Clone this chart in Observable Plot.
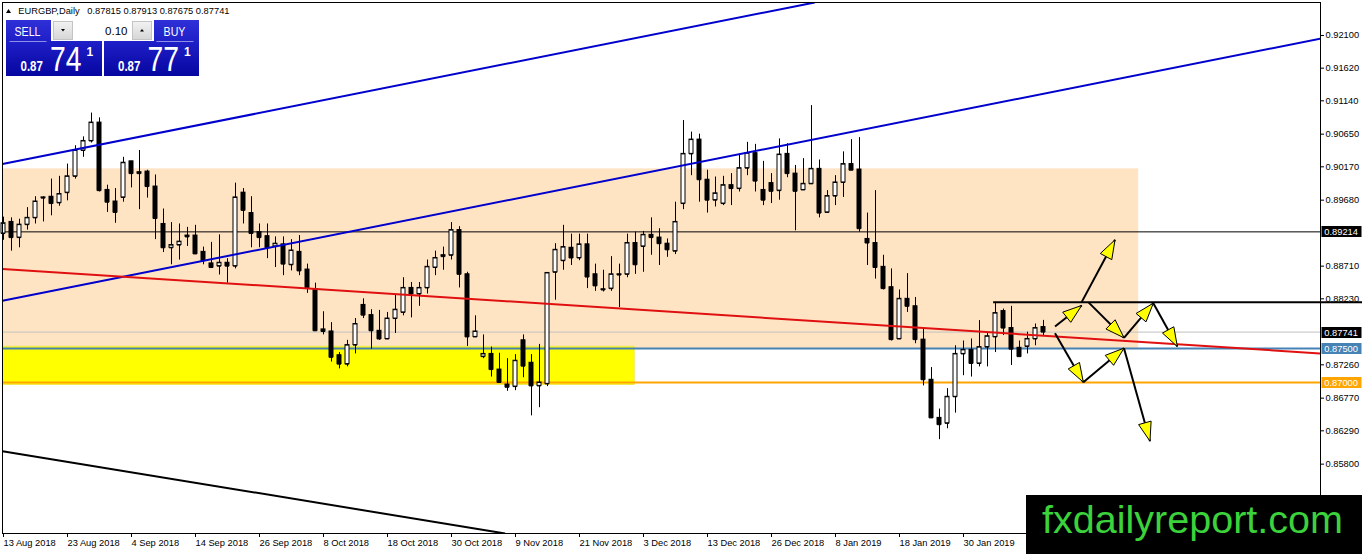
<!DOCTYPE html>
<html><head><meta charset="utf-8">
<script src="https://cdn.jsdelivr.net/npm/d3@7"></script>
<script src="https://cdn.jsdelivr.net/npm/@observablehq/plot@0.6"></script>
<style>
html,body{margin:0;padding:0;background:#fff;overflow:hidden}
#wrap{position:relative;width:1362px;height:554px}
#wrap svg{position:absolute;left:0;top:0}
</style></head><body><div id="wrap"></div>
<script>
// ---------- data ----------
const symbol = "EURGBP,Daily";
const lastOHLC = [0.87815, 0.87913, 0.87675, 0.87741];
const bidPrice = 0.87741, askPrice = 0.87771, lotSize = 0.10;

const opens = [0.8919,0.8936,0.8913,0.8932,0.8942,0.8972,0.8973,0.8964,0.8979,0.9003,
0.9041,0.9055,0.9082,0.8983,0.8966,0.8972,0.9025,0.9009,0.9010,0.8988,
0.8933,0.8898,0.8902,0.8916,0.8916,0.8892,0.8875,0.8871,0.8876,0.8871,
0.8979,0.8949,0.8921,0.8915,0.8900,0.8903,0.8873,0.8892,0.8866,0.8837,
0.8778,0.8775,0.8740,0.8727,0.8755,0.8814,0.8799,0.8776,0.8764,0.8794,
0.8803,0.8839,0.8830,0.8839,0.8869,0.8887,0.8887,0.8924,0.8859,0.8767,
0.8738,0.8742,0.8719,0.8697,0.8694,0.8762,0.8729,0.8695,0.8698,0.8862,
0.8879,0.8898,0.8883,0.8903,0.8859,0.8837,0.8838,0.8859,0.8859,0.8905,
0.8900,0.8917,0.8913,0.8904,0.8893,0.8963,0.9036,0.9057,0.8998,0.8968,
0.8963,0.8990,0.8985,0.9015,0.9037,0.8983,0.8993,0.8982,0.9036,0.9007,
0.8983,0.8992,0.9014,0.8950,0.8974,0.8994,0.9021,0.9013,0.8911,0.8905,
0.8870,0.8840,0.8764,0.8823,0.8812,0.8763,0.8704,0.8648,0.8640,0.8679,
0.8742,0.8748,0.8728,0.8752,0.8767,0.8805,0.8780,0.8751,0.8753,0.8764,
0.87815];
const highs = [0.8943,0.8942,0.8940,0.8957,0.8973,0.8973,0.8999,0.9003,0.9021,0.9048,
0.9061,0.9096,0.9089,0.8990,0.8985,0.9031,0.9025,0.9041,0.9012,0.9005,
0.8955,0.8935,0.8933,0.8928,0.8931,0.8899,0.8906,0.8917,0.8882,0.8993,
0.8985,0.8973,0.8933,0.8933,0.8914,0.8914,0.8910,0.8916,0.8874,0.8846,
0.8804,0.8788,0.8744,0.8762,0.8794,0.8823,0.8807,0.8806,0.8803,0.8828,
0.8854,0.8847,0.8847,0.8880,0.8893,0.8899,0.8935,0.8929,0.8862,0.8798,
0.8770,0.8752,0.8743,0.8735,0.8741,0.8770,0.8741,0.8756,0.8861,0.8904,
0.8931,0.8918,0.8918,0.8918,0.8874,0.8865,0.8885,0.8874,0.8918,0.8921,
0.8922,0.8942,0.8926,0.8911,0.8965,0.9085,0.9068,0.9065,0.9012,0.9002,
0.9003,0.9007,0.9034,0.9053,0.9050,0.9025,0.9007,0.9058,0.9051,0.9019,
0.9029,0.9107,0.9027,0.8982,0.9004,0.9039,0.9057,0.9060,0.8949,0.8982,
0.8887,0.8867,0.8836,0.8860,0.8825,0.8780,0.8722,0.8661,0.8691,0.8754,
0.8761,0.8764,0.8791,0.8772,0.8816,0.8808,0.8812,0.8761,0.8774,0.8786,
0.87913];
const lows = [0.8909,0.8893,0.8898,0.8924,0.8933,0.8936,0.8945,0.8959,0.8967,0.8999,
0.9031,0.9052,0.8980,0.8950,0.8934,0.8965,0.8986,0.8954,0.8971,0.8910,
0.8891,0.8873,0.8880,0.8900,0.8888,0.8873,0.8868,0.8858,0.8846,0.8867,
0.8933,0.8898,0.8898,0.8882,0.8869,0.8857,0.8864,0.8857,0.8831,0.8775,
0.8770,0.8730,0.8720,0.8723,0.8742,0.8794,0.8749,0.8762,0.8763,0.8772,
0.8798,0.8795,0.8812,0.8830,0.8857,0.8865,0.8880,0.8839,0.8753,0.8766,
0.8735,0.8708,0.8699,0.8687,0.8688,0.8707,0.8651,0.8663,0.8694,0.8821,
0.8865,0.8872,0.8879,0.8838,0.8834,0.8833,0.8834,0.8810,0.8854,0.8859,
0.8862,0.8887,0.8872,0.8884,0.8888,0.8954,0.9004,0.8965,0.8949,0.8958,
0.8960,0.8960,0.8980,0.9004,0.8980,0.8960,0.8963,0.8968,0.9001,0.8923,
0.8983,0.8992,0.8942,0.8949,0.8960,0.8972,0.9012,0.8921,0.8872,0.8852,
0.8836,0.8761,0.8763,0.8803,0.8757,0.8695,0.8647,0.8616,0.8632,0.8655,
0.8710,0.8708,0.8723,0.8723,0.8744,0.8769,0.8725,0.8738,0.8742,0.8754,
0.87675];
const closes = [0.8934,0.8913,0.8932,0.8942,0.8966,0.8971,0.8963,0.8977,0.9003,0.9041,
0.9055,0.9082,0.8982,0.8965,0.8950,0.9023,0.9007,0.9007,0.8988,0.8941,
0.8898,0.8902,0.8907,0.8914,0.8889,0.8879,0.8869,0.8876,0.8871,0.8972,
0.8953,0.8919,0.8913,0.8898,0.8904,0.8874,0.8894,0.8864,0.8839,0.8776,
0.8775,0.8737,0.8727,0.8755,0.8786,0.8799,0.8776,0.8764,0.8794,0.8807,
0.8839,0.8830,0.8839,0.8870,0.8883,0.8885,0.8924,0.8859,0.8767,0.8775,
0.8742,0.8719,0.8700,0.8693,0.8732,0.8724,0.8695,0.8700,0.8861,0.8895,
0.8899,0.8883,0.8903,0.8855,0.8842,0.8836,0.8859,0.8858,0.8905,0.8873,
0.8917,0.8913,0.8904,0.8895,0.8936,0.9036,0.9057,0.8998,0.8968,0.8978,
0.8990,0.8985,0.9015,0.9037,0.8996,0.8968,0.8981,0.9035,0.9007,0.8981,
0.8992,0.9014,0.8949,0.8974,0.8994,0.9021,0.9012,0.8926,0.8905,0.8869,
0.8838,0.8763,0.8823,0.8812,0.8763,0.8704,0.8648,0.8638,0.8679,0.8742,
0.8748,0.8728,0.8752,0.8768,0.8802,0.8780,0.8749,0.8738,0.8764,0.8780,
0.87741];

const xTickBars = [0,8,16,24,32,40,48,56,64,72,80,88,96,104,112,120];
const xTickLabels = ["13 Aug 2018","23 Aug 2018","4 Sep 2018","14 Sep 2018","26 Sep 2018","8 Oct 2018",
  "18 Oct 2018","30 Oct 2018","9 Nov 2018","21 Nov 2018","3 Dec 2018","13 Dec 2018","26 Dec 2018",
  "8 Jan 2019","18 Jan 2019","30 Jan 2019"];
const yTicks = [0.92100,0.91620,0.91140,0.90650,0.90170,0.89680,0.88710,0.88230,0.87260,0.86770,0.86290,0.85800];

// horizontal levels: resistance, bid, pivot, support
const levelPrices = [0.89214, 0.87741, 0.87500, 0.87000];

// shaded zones (bar index from/to, price low/high)
const zones = [
  {name: "range",   from: -1, to: 141.9, low: 0.87500, high: 0.90140},
  {name: "support", from: -1, to: 78.9,  low: 0.86965, high: 0.87525}
];

// trend lines (bar index, price)
const trendlines = [
  {name: "channelUpper", x1: -0.125, p1: 0.90211, x2: 101.4,   p2: 0.92585},
  {name: "channelLower", x1: -0.125, p1: 0.88202, x2: 164.625, p2: 0.92054},
  {name: "redTrend",     x1: -0.125, p1: 0.88669, x2: 164.625, p2: 0.87427},
  {name: "blackTrend",   x1: -0.125, p1: 0.85991, x2: 62.7,    p2: 0.84781},
  {name: "resistSeg",    x1: 123.7,  p1: 0.88180, x2: 169.9,   p2: 0.88180}
];

// scenario arrows (bar index, price) -> tip
const arrows = [
  {fromBar: 131.44, fromPrice: 0.87823, toBar: 134.77, toPrice: 0.88132},
  {fromBar: 134.77, fromPrice: 0.88181, toBar: 138.94, toPrice: 0.89097},
  {fromBar: 135.60, fromPrice: 0.88181, toBar: 140.06, toPrice: 0.87657},
  {fromBar: 140.06, fromPrice: 0.87657, toBar: 143.73, toPrice: 0.88166},
  {fromBar: 143.73, fromPrice: 0.88166, toBar: 146.73, toPrice: 0.87529},
  {fromBar: 131.44, fromPrice: 0.87725, toBar: 134.98, toPrice: 0.87005},
  {fromBar: 134.98, fromPrice: 0.87005, toBar: 140.06, toPrice: 0.87505},
  {fromBar: 140.06, fromPrice: 0.87505, toBar: 143.31, toPrice: 0.86138}
];

const watermark = "fxdailyreport.com";

// ---------- chart ----------
const candles = opens.map((o, i) => ({i, o, h: highs[i], l: lows[i], c: closes[i]}));
const bull = candles.filter(d => d.c >= d.o);
const bear = candles.filter(d => d.c < d.o);
const HW = 0.25;
const byName = n => trendlines.filter(t => t.name === n);

function arrowHeads(index, scales) {
  const g = d3.create("svg:g");
  for (const a of arrows) {
    const x1 = scales.x(a.fromBar) + 0.5, y1 = scales.y(a.fromPrice) + 0.5;
    const x2 = scales.x(a.toBar) + 0.5, y2 = scales.y(a.toPrice) + 0.5;
    const ang = Math.atan2(y2 - y1, x2 - x1);
    const L = 19, W = 6.5;
    const bx = x2 - L * Math.cos(ang), by = y2 - L * Math.sin(ang);
    const px = -Math.sin(ang) * W, py = Math.cos(ang) * W;
    g.append("path")
      .attr("d", `M${x2},${y2}L${bx + px},${by + py}L${bx - px},${by - py}Z`)
      .attr("fill", "#ffff00").attr("stroke", "#000").attr("stroke-width", 1)
      .attr("stroke-linejoin", "miter");
  }
  return g.node();
}

const tagFill = ["#000000", "#000000", "#4682B4", "#FFA500"];
function priceTags(index, scales, values, dims) {
  const g = d3.create("svg:g").attr("text-anchor", "start");
  const ax = dims.width - dims.marginRight;
  levelPrices.forEach((p, k) => {
    const y = Math.round(scales.y(p)) + 0.5;
    g.append("rect").attr("x", ax + 1.5).attr("y", y - 5.5).attr("width", 40).attr("height", 11).attr("fill", tagFill[k]);
    g.append("text").attr("x", ax + 4.3).attr("y", y + 3.4).attr("fill", "#fff")
      .attr("text-anchor", "start").attr("font-size", "9.3px").text(p.toFixed(5));
  });
  return g.node();
}

const chart = Plot.plot({
  width: 1362, height: 554,
  marginLeft: 2, marginRight: 42, marginTop: 2, marginBottom: 21,
  x: {type: "linear", domain: [-0.125, 164.625]},
  y: {type: "linear", domain: [0.847808, 0.925850]},
  style: {fontFamily: "'Liberation Sans', Arial, sans-serif", fontSize: "9.3px", background: "#fff", color: "#000"},
  marks: [
    Plot.rect(zones.filter(z => z.name === "range"), {x1: "from", x2: "to", y1: "low", y2: "high", fill: "#FFE4C4", clip: true}),
    Plot.rect(zones.filter(z => z.name === "support"), {x1: "from", x2: "to", y1: "low", y2: "high", fill: "#FFFF00", stroke: "#f2e84a", strokeWidth: 1, clip: true}),
    Plot.ruleY([levelPrices[1]], {stroke: "#c0c0c0", strokeWidth: 1}),
    Plot.ruleY([levelPrices[0]], {stroke: "#000", strokeWidth: 1}),
    Plot.ruleY([levelPrices[2]], {stroke: "#4682B4", strokeWidth: 2}),
    Plot.ruleY([levelPrices[3]], {stroke: "#FFA500", strokeWidth: 2}),
    Plot.ruleX(candles, {x: "i", y1: "l", y2: "h", stroke: "#000", strokeWidth: 1}),
    Plot.rect(bull, {x1: d => d.i - HW, x2: d => d.i + HW, y1: "o", y2: "c", fill: "#fff", stroke: "#000", strokeWidth: 1}),
    Plot.rect(bear, {x1: d => d.i - HW, x2: d => d.i + HW, y1: "o", y2: "c", fill: "#000", stroke: "#000", strokeWidth: 1}),
    Plot.ruleY(candles, {y: "o", x1: d => d.i - HW, x2: d => d.i + HW, stroke: "#000", strokeWidth: 1}),
    Plot.ruleY(candles, {y: "c", x1: d => d.i - HW, x2: d => d.i + HW, stroke: "#000", strokeWidth: 1}),
    Plot.link(byName("channelUpper").concat(byName("channelLower")), {x1: "x1", y1: "p1", x2: "x2", y2: "p2", stroke: "#0000CD", strokeWidth: 2, clip: true}),
    Plot.link(byName("redTrend"), {x1: "x1", y1: "p1", x2: "x2", y2: "p2", stroke: "#e01010", strokeWidth: 2, clip: true}),
    Plot.link(byName("blackTrend"), {x1: "x1", y1: "p1", x2: "x2", y2: "p2", stroke: "#000", strokeWidth: 2, clip: true}),
    Plot.link(arrows, {x1: "fromBar", y1: "fromPrice", x2: "toBar", y2: "toPrice", stroke: "#000", strokeWidth: 2}),
    arrowHeads,
    Plot.axisY(yTicks, {anchor: "right", tickSize: 3, tickPadding: 2, tickFormat: d => d.toFixed(5), label: null}),
    Plot.axisX(xTickBars, {anchor: "bottom", tickSize: 4, tickPadding: 2, textAnchor: "start",
      tickFormat: d => xTickLabels[xTickBars.indexOf(d)], label: null}),
    Plot.link(byName("resistSeg"), {x1: "x1", y1: "p1", x2: "x2", y2: "p2", stroke: "#000", strokeWidth: 2}),
    priceTags,
    Plot.frame({stroke: "#000"})
  ]
});
document.getElementById("wrap").appendChild(chart);

// ---------- overlay: header, trade panel, watermark ----------
const ov = d3.select("#wrap").append("svg").attr("width", 1362).attr("height", 554)
  .style("font-family", "'Liberation Sans', Arial, sans-serif");
const defs = ov.append("defs");
const grad = defs.append("linearGradient").attr("id", "btnGrad").attr("x1", 0).attr("y1", 0).attr("x2", 0).attr("y2", 1);
grad.append("stop").attr("offset", "0").attr("stop-color", "#3030d8");
grad.append("stop").attr("offset", "0.45").attr("stop-color", "#1c1cc4");
grad.append("stop").attr("offset", "1").attr("stop-color", "#0606a0");
const lotGrad = defs.append("linearGradient").attr("id", "lotGrad").attr("x1", 0).attr("y1", 0).attr("x2", 0).attr("y2", 1);
lotGrad.append("stop").attr("offset", "0").attr("stop-color", "#f2f2f2");
lotGrad.append("stop").attr("offset", "1").attr("stop-color", "#d6d6d6");

// header
ov.append("path").attr("d", "M6,13L8.5,9L11,13Z").attr("fill", "#000");
const hdr = ov.append("text").attr("x", 18.3).attr("y", 14).attr("font-size", "9.3px").attr("fill", "#000");
hdr.append("tspan").text(symbol);
hdr.append("tspan").attr("x", 87.3).text(lastOHLC.map(v => v.toFixed(5)).join(" "));

// buttons
const bidStr = bidPrice.toFixed(5), askStr = askPrice.toFixed(5);
function button(x, w, label, labelCx, priceStr, px) {
  ov.append("rect").attr("x", x).attr("y", 20).attr("width", w).attr("height", 56).attr("fill", "url(#btnGrad)");
  ov.append("text").attr("transform", `translate(${labelCx},36) scale(0.85,1)`).attr("text-anchor", "middle")
    .attr("font-size", "12.5px").attr("fill", "#fff").text(label);
  ov.append("line").attr("x1", labelCx - 18).attr("x2", labelCx + 19).attr("y1", 41.5).attr("y2", 41.5)
    .attr("stroke", "#8f8fe8").attr("stroke-width", 1);
  ov.append("text").attr("transform", `translate(${px},71) scale(0.82,1)`).attr("font-size", "14px")
    .attr("font-weight", "bold").attr("fill", "#fff").text(priceStr.slice(0, 4));
  ov.append("text").attr("transform", `translate(${px + 29.5},71) scale(0.81,1)`).attr("font-size", "35px")
    .attr("fill", "#fff").text(priceStr.slice(4, 6));
  ov.append("text").attr("x", px + 66).attr("y", 56).attr("font-size", "12px").attr("font-weight", "bold")
    .attr("fill", "#fff").text(priceStr.slice(6));
}
button(6, 96, "SELL", 27.5, bidStr, 20.5);
button(104, 95, "BUY", 174.5, askStr, 118);

// lot control
ov.append("rect").attr("x", 51).attr("y", 20).attr("width", 103).attr("height", 21).attr("fill", "#fff");
ov.append("rect").attr("x", 53.5).attr("y", 21.5).attr("width", 19).attr("height", 18).attr("fill", "url(#lotGrad)").attr("stroke", "#c4c4c4");
ov.append("rect").attr("x", 132.5).attr("y", 21.5).attr("width", 19).attr("height", 18).attr("fill", "url(#lotGrad)").attr("stroke", "#c4c4c4");
ov.append("path").attr("d", "M61,29L65,29L63,31.5Z").attr("fill", "#000");
ov.append("path").attr("d", "M140,31.5L144,31.5L142,29Z").attr("fill", "#000");
ov.append("text").attr("x", 127.5).attr("y", 34.5).attr("text-anchor", "end").attr("font-size", "11.5px")
  .attr("fill", "#000").text(lotSize.toFixed(2));

// watermark banner
ov.append("rect").attr("x", 1026).attr("y", 495).attr("width", 336).attr("height", 59).attr("fill", "#000");
ov.append("text").attr("x", 1042).attr("y", 533).attr("font-size", "39px").attr("fill", "#3bd23b")
  .attr("textLength", 301).attr("lengthAdjust", "spacingAndGlyphs").text(watermark);
</script>
</body></html>
